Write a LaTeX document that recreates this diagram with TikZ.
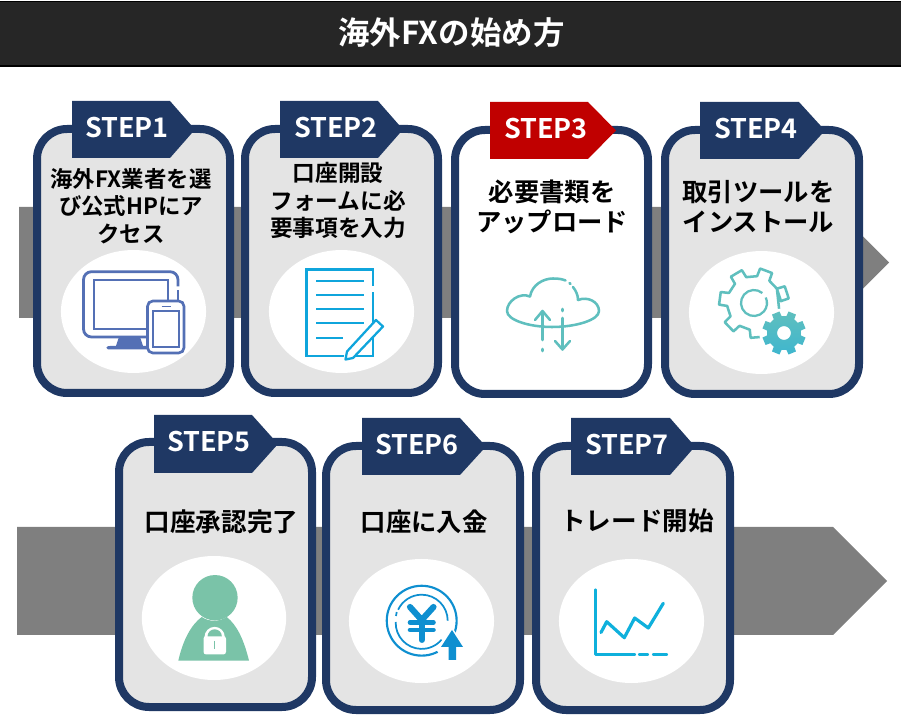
\documentclass[tikz,border=0pt]{standalone}
\usepackage{fontspec}
\setmainfont{Noto Sans CJK JP}[BoldFont={Noto Sans CJK JP Bold}]
\definecolor{navy}{HTML}{1F3864}
\definecolor{stepred}{HTML}{C00000}
\definecolor{cardgrey}{HTML}{E4E4E4}
\definecolor{bandgrey}{HTML}{7F7F7F}
\definecolor{titlebar}{HTML}{262626}
\definecolor{devblue}{HTML}{5470B5}
\definecolor{docblue}{HTML}{0FA5DC}
\definecolor{tealc}{HTML}{5FBFBE}
\definecolor{tealg}{HTML}{3FB6CE}
\definecolor{personc}{HTML}{7AC3A8}
\definecolor{yenblue}{HTML}{0E8FD0}
\definecolor{chartc}{HTML}{0FB0DC}
\tikzset{
  x=0.75pt,y=-0.75pt,
  cardbox/.style={draw=navy,line width=6pt,fill=cardgrey,rounded corners=22.5pt},
  band/.style={fill=bandgrey},
  blob/.style={fill=white},
  steptext/.style={text=white,font=\bfseries\fontsize{20.25}{24}\selectfont,inner sep=0pt},
  cardtext/.style={text=black,font=\bfseries\fontsize{#1}{20}\selectfont,align=center,inner sep=0pt},
  cardtext/.default=19,
}
\newcommand{\tagshape}[6]{% left, shoulder, tip, top, bottom, colour
  \fill[#6] (#1,#4) -- (#2,#4) -- (#3,{(#4+#5)/2}) -- (#2,#5) -- (#1,#5) -- cycle;}
\begin{document}
\begin{tikzpicture}
\useasboundingbox (0,0) rectangle (901,727);
% title
\fill[black] (0,1) rectangle (901,67);
\fill[titlebar] (0,2.5) rectangle (901,65.5);
\node[text=white,font=\bfseries\fontsize{23.6}{28}\selectfont,inner sep=0pt] (title) at (451.5,32.5) {海外FXの始め方};
% bands
\fill[band] (19,207) -- (833.5,207) -- (889,262.5) -- (833.5,318) -- (19,318) -- cycle;
\fill[band] (17,527) -- (833,527) -- (887,581) -- (833,635) -- (17,635) -- cycle;
% cards
\draw[cardbox] (37,129) rectangle (230,393);
\draw[cardbox] (245,129) rectangle (438,393);
\draw[cardbox,fill=white] (455,130) rectangle (648,394);
\draw[cardbox] (665,130) rectangle (859,394);
\draw[cardbox] (119,442) rectangle (312,707);
\draw[cardbox] (326,446) rectangle (520,710);
\draw[cardbox] (536,446) rectangle (730,710);
% tags
\tagshape{72}{170}{195}{101}{158}{navy}
\tagshape{280}{378}{403}{101}{158}{navy}
\tagshape{490}{588}{616}{102}{159}{stepred}
\tagshape{700}{799}{825}{102}{159}{navy}
\tagshape{154}{252}{278}{415}{473}{navy}
\tagshape{362}{460}{486}{418}{475}{navy}
\tagshape{571}{670}{695}{418}{475}{navy}
\node[steptext] (s1) at (127,127.5) {STEP1};
\node[steptext] (s2) at (336,128) {STEP2};
\node[steptext] (s3) at (546,128.5) {STEP3};
\node[steptext] (s4) at (756,128.5) {STEP4};
\node[steptext] (s5) at (209,442) {STEP5};
\node[steptext] (s6) at (417,445) {STEP6};
\node[steptext] (s7) at (627,445) {STEP7};
% card texts
\node[cardtext=16.8] (t1) at (131,206) {海外FX業者を選\\[0.6pt]び公式HPにア\\[0.6pt]クセス};
\node[cardtext=17] (t2) at (338,200.5) {口座開設\\[0.4pt]フォームに必\\[0.4pt]要事項を入力};
\node[cardtext] (t3) at (552,206.5) {必要書類を\\[2.5pt]アップロード};
\node[cardtext] (t4) at (758.5,206.5) {取引ツールを\\[2.5pt]インストール};
\node[cardtext=19.2] (t5) at (221.5,522) {口座承認完了};
\node[cardtext] (t6) at (424,522) {口座に入金};
\node[cardtext=19.2] (t7) at (637,521) {トレード開始};
% ellipses
\fill[blob] (133.5,311.5) ellipse [x radius=54.4pt,y radius=46.1pt];
\fill[blob] (341.5,311.5) ellipse [x radius=54.4pt,y radius=46.1pt];
\fill[blob] (761.5,312.5) ellipse [x radius=54.4pt,y radius=46.1pt];
\fill[blob] (214,618) ellipse [x radius=54.1pt,y radius=46.5pt];
\fill[blob] (421.5,621) ellipse [x radius=54.4pt,y radius=46.5pt];
\fill[blob] (631.5,621) ellipse [x radius=54.4pt,y radius=46.5pt];
% icon 1: devices
\begin{scope}[devblue]
\draw[line width=2.1pt,rounded corners=6pt] (178,286.5) -- (178,271.7) -- (83.5,271.7) -- (83.5,337) -- (148,337);
\draw[line width=2.1pt] (178,290.5) -- (178,301);
\draw[line width=1.7pt] (147,280) -- (94,280) -- (94,328.7) -- (147,328.7);
\draw[line width=1.7pt] (147,280) -- (167.7,280) -- (167.7,301);
\fill (119,337) -- (140,337) -- (143,346) -- (148,346) -- (148,349.5) -- (108,349.5) arc[start angle=270,end angle=90,radius=1.3pt] -- (116,345.9) -- cycle;
\filldraw[fill=white,line width=2pt,rounded corners=4pt] (147.5,301) rectangle (184,353);
\draw[line width=1.5pt] (152.7,310.7) rectangle (179,346.7);
\draw[line width=1.3pt] (161.5,306.5) -- (171,306.5);
\end{scope}
% icon 2: document
\begin{scope}[docblue]
\draw[line width=1.6pt] (373,286) -- (373,269.5) -- (306.5,269.5) -- (306.5,356) -- (373,356) -- (373,292);
\foreach \yy in {281.5,295.5,309.5,323.5} \draw[line width=1.5pt] (316,\yy) -- (364,\yy);
\draw[line width=1.5pt] (316,338) -- (343,338);
\fill[white] (378,317) -- (345,352) -- (343,361) -- (353,359) -- (385,323) -- cycle;
\draw[line width=1.7pt,line join=round] (376,320) -- (383,326.5) -- (353,358) -- (345.5,359.5) -- (347,351.5) -- cycle;
\end{scope}
% icon 3: cloud
\begin{scope}[tealc,line width=1.9pt,line cap=round,line join=round]
\draw (530,296.5) .. controls (532,285) and (543,278.5) .. (553,278.5) .. controls (558,278.5) and (562,279) .. (565.5,280.5);
\draw (569.5,283) -- (570.5,284);
\draw (573,287) .. controls (576,291) and (578,295) .. (578,300);
\draw (578,300) .. controls (588,296) and (599,302) .. (599,311)
  .. controls (599,320) and (576,327) .. (552,327)
  .. controls (529,327) and (507,320) .. (507,311)
  .. controls (507,301) and (520,292) .. (530,296.5);
\draw (542.5,313) -- (542.5,340) (542.5,349) -- (542.5,351);
\draw (535,320) -- (542.5,311) -- (550,320);
\draw (562.5,309) -- (562.5,311) (562.5,318) -- (562.5,349);
\draw (555,341) -- (562.5,349.5) -- (570,341);
\end{scope}
% icon 4: gears
\begin{scope}[shift={(754,303)}]
\draw[tealc,line width=1.9pt,line join=round]
  (-32:27) \foreach \a in {18,69.4,120.8,172.2,223.6,275,326.4} {
    -- ({-\a+14}:27) -- ({-\a+10.5}:35) -- ({-\a-10.5}:35) -- ({-\a-14}:27)
  } -- cycle;
\draw[tealc,line width=1.7pt] (-50:13) arc[start angle=50,end angle=385,radius=9.75pt];
\end{scope}
\begin{scope}[shift={(784,333)}]
\fill[white] (0,0) circle[radius=18.5pt];
\shade[top color=tealc,bottom color=tealg,even odd rule]
  (0:17) \foreach \a in {0,45,...,315} {
    -- ({\a+8}:17) -- ({\a+12}:22) -- ({\a+33}:22) -- ({\a+37}:17) -- ({\a+45}:17)
  } -- cycle (0,0) circle[radius=5.2pt];
\end{scope}
% icon 5: person
\begin{scope}[personc]
\fill (215,597.7) circle[radius=17pt];
\fill (178.3,660.7) .. controls (183,640) and (191,625) .. (201.7,617) .. controls (209,622) and (219,622) .. (226.7,617)
  .. controls (237,625) and (244,640) .. (249,660.7) -- cycle;
\fill[white,rounded corners=2pt] (203.5,636) rectangle (226,654.5);
\fill[white] (204.5,637) arc[start angle=180,end angle=0,radius=7.6pt] -- cycle;
\fill (207.5,636.5) arc[start angle=180,end angle=0,radius=5.4pt] -- cycle;
\draw[line width=0.9pt] (214.7,641) -- (214.7,649);
\end{scope}
% icon 6: yen
\begin{scope}[yenblue]
\draw[line width=1.6pt] (421.7,620.7) circle[radius=26.2pt];
\draw[line width=1.3pt] (447.7,620.7) arc[start angle=0,end angle=155,radius=19.5pt];
\draw[line width=1.3pt] (396.7,612) -- (396,616);
\draw[line width=1.3pt] (395.7,622) arc[start angle=178,end angle=320,radius=19.5pt];
\draw[line width=4.6pt,line cap=round] (410,607) -- (421.7,620) -- (433.5,607);
\draw[line width=4.4pt,line cap=round] (421.7,620) -- (421.7,640);
\draw[line width=3.4pt,line cap=round] (410,622.5) -- (433.5,622.5);
\draw[line width=3.4pt,line cap=round] (410,630) -- (433.5,630);
\fill[white] (452,627) -- (436,649) -- (444,662) -- (460,662) -- (466,649) -- cycle;
\fill (452,630) -- (441,647) -- (448.5,647) -- (448.5,660) -- (456,660) -- (456,647) -- (463,647) -- cycle;
\end{scope}
% icon 7: chart
\begin{scope}[chartc,line cap=round,line join=round]
\draw[line width=1.7pt] (595.5,589.5) -- (595.5,654.5) -- (635,654.5);
\draw[line width=1.7pt] (639,654.5) -- (648,654.5);
\draw[line width=1.7pt] (653,654.5) -- (667,654.5);
\draw[line width=2.4pt] (601,632.5) -- (606.7,621.7) -- (624.3,637.7) -- (634.7,618) -- (648.3,628) -- (663.3,603.3);
\end{scope}
\end{tikzpicture}
\end{document}
